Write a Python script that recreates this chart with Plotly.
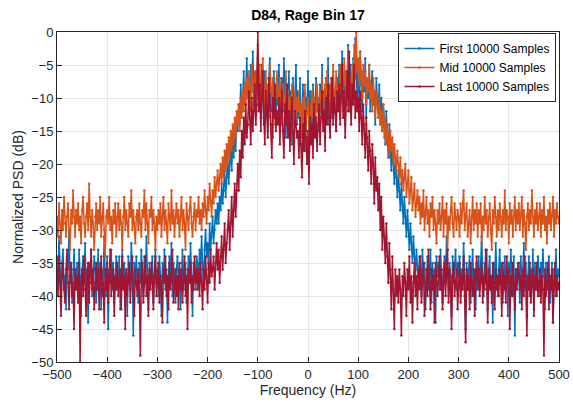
import numpy as np
import plotly.graph_objects as go

freq = list(np.arange(-500, 501, 2))

first_vals = [
    -34,-38,-31,-36,-40,-35,-33,-39,-37,-42,-34,-36,-30,-38,-35,-41,-36,-33,-39,-37,
    -35,-40,-33,-37,-43,-36,-34,-38,-32,-39,-36,-44,-35,-37,-33,-40,-38,-34,-36,-41,
    -37,-33,-39,-35,-42,-36,-38,-31,-37,-40,-34,-45,-36,-38,-33,-39,-35,-41,-37,-34,
    -36,-39,-34,-42,-37,-33,-38,-35,-40,-36,-43,-34,-37,-39,-32,-36,-46,-35,-38,-34,
    -37,-41,-35,-38,-33,-36,-40,-34,-38,-31,-37,-42,-35,-39,-36,-34,-41,-37,-33,-38,
    -36,-40,-34,-37,-43,-35,-38,-33,-39,-36,-44,-37,-34,-38,-32,-40,-35,-37,-41,-36,
    -34,-38,-36,-42,-35,-33,-39,-37,-35,-41,-36,-34,-38,-32,-37,-43,-35,-36,-39,-34,
    -35,-38,-33,-36,-31,-35,-39,-33,-30,-34,-32,-36,-29,-33,-31,-28,-32,-30,-27,-29,
    -26,-29,-25,-27,-23,-26,-24,-21,-25,-22,-19,-23,-20,-17,-21,-16,-19,-14,-18,-13,
    -15,-11,-14,-8,-12,-10,-6,-11,-9,-4,-10,-7,-12,-5,-9,-3,-8,-11,-6,-9,
    -4,-10,-7,-13,-5,-9,-14,-6,-11,-8,-15,-7,-4,-12,-9,-16,-6,-10,-13,-7,
    -11,-5,-9,-14,-7,-12,-4,-10,-16,-8,-11,-6,-13,-9,-17,-7,-12,-10,-5,-14,
    -9,-13,-7,-16,-11,-8,-14,-18,-10,-12,-6,-15,-9,-13,-17,-8,-11,-14,-7,-12,
    -10,-15,-8,-12,-5,-13,-9,-16,-7,-11,-4,-14,-8,-10,-13,-6,-12,-9,-15,-7,
    -10,-5,-13,-8,-3,-11,-7,-14,-6,-9,-2,-12,-5,-8,-11,-4,-9,-1,-7,-10,
    -5,-11,-3,-8,-12,-6,-9,-4,-13,-7,-10,-5,-12,-8,-6,-11,-9,-14,-7,-10,
    -12,-8,-14,-10,-15,-11,-13,-17,-12,-16,-19,-14,-18,-21,-17,-20,-23,-19,-22,-25,
    -21,-24,-27,-23,-26,-29,-25,-28,-31,-27,-30,-33,-29,-32,-35,-31,-34,-37,-33,-36,
    -38,-34,-36,-40,-33,-37,-35,-42,-36,-34,-39,-37,-33,-41,-35,-38,-36,-44,-34,-37,
    -35,-39,-33,-37,-41,-36,-34,-38,-31,-36,-40,-35,-37,-43,-34,-38,-36,-33,-39,-35,
    -37,-34,-40,-36,-38,-32,-37,-45,-35,-39,-36,-34,-41,-37,-33,-38,-36,-42,-35,-37,
    -34,-39,-36,-31,-37,-40,-35,-38,-33,-42,-36,-34,-39,-37,-44,-35,-38,-32,-37,-40,
    -36,-33,-38,-35,-41,-37,-34,-39,-36,-43,-35,-38,-33,-37,-40,-34,-46,-36,-38,-35,
    -37,-41,-34,-38,-36,-32,-39,-35,-43,-37,-34,-40,-36,-38,-33,-42,-35,-37,-39,-34,
    -36,-40,-35,-38,-33,-37,-42,-35,-39,-36,-34,-41,-37,-35,-44,-36,-38,-33,-40,-36,
    -37,
]

mid_vals = [
    -28,-31,-26,-29,-32,-27,-30,-25,-29,-31,-28,-26,-30,-33,-27,-29,-24,-28,-31,-27,
    -29,-26,-30,-28,-32,-27,-25,-29,-31,-28,-26,-30,-23,-28,-31,-27,-29,-33,-28,-26,
    -30,-27,-29,-25,-31,-28,-26,-30,-34,-28,-27,-29,-25,-30,-28,-32,-27,-29,-26,-31,
    -28,-26,-30,-27,-29,-33,-28,-25,-30,-27,-29,-31,-26,-28,-24,-30,-27,-29,-32,-28,
    -27,-30,-26,-29,-31,-27,-28,-24,-30,-26,-29,-32,-27,-28,-25,-30,-27,-29,-33,-28,
    -30,-27,-29,-26,-31,-28,-25,-30,-27,-29,-32,-26,-28,-30,-24,-29,-27,-31,-28,-26,
    -29,-27,-31,-28,-25,-30,-27,-29,-33,-26,-28,-30,-27,-25,-29,-31,-28,-26,-30,-27,
    -28,-25,-29,-27,-30,-26,-28,-24,-27,-29,-25,-27,-23,-26,-28,-24,-26,-22,-25,-23,
    -21,-24,-22,-20,-23,-19,-22,-18,-21,-17,-20,-16,-19,-15,-18,-14,-17,-13,-16,-12,
    -14,-11,-15,-10,-13,-9,-12,-8,-11,-7,-10,-6,-9,-12,-5,-8,-11,-6,-10,-7,
    -2,-8,-5,-11,-7,-4,-9,-12,-6,-10,-8,-13,-5,-9,-11,-7,-14,-8,-10,-6,
    -9,-12,-7,-11,-14,-8,-10,-13,-6,-11,-9,-15,-10,-12,-8,-14,-11,-9,-13,-10,
    -12,-9,-14,-11,-16,-10,-13,-8,-15,-12,-10,-14,-17,-11,-9,-13,-10,-15,-12,-8,
    -11,-14,-9,-12,-7,-13,-10,-8,-12,-6,-11,-9,-13,-7,-10,-5,-9,-12,-6,-10,
    -8,-11,-5,-9,-7,-12,-4,-8,-10,-6,-3,-9,-7,-11,-5,-8,-2,-7,0,-6,
    -4,-8,-3,-7,-10,-5,-8,-6,-11,-7,-9,-5,-10,-8,-12,-7,-10,-13,-9,-11,
    -13,-10,-14,-12,-15,-11,-16,-13,-17,-14,-16,-19,-15,-18,-16,-20,-17,-19,-21,-18,
    -20,-22,-19,-23,-21,-24,-22,-20,-25,-23,-21,-26,-24,-22,-27,-25,-23,-28,-26,-24,
    -27,-25,-29,-26,-28,-24,-30,-27,-25,-29,-27,-31,-26,-28,-25,-30,-27,-29,-32,-27,
    -29,-26,-30,-28,-25,-31,-27,-29,-26,-33,-28,-30,-27,-25,-29,-31,-26,-28,-30,-27,
    -28,-31,-26,-29,-27,-24,-30,-28,-26,-31,-29,-27,-32,-28,-25,-30,-27,-29,-26,-31,
    -27,-29,-26,-32,-28,-30,-25,-29,-27,-31,-28,-26,-30,-33,-27,-29,-25,-28,-31,-27,
    -30,-26,-28,-31,-27,-29,-24,-30,-27,-28,-32,-26,-29,-27,-31,-28,-25,-30,-27,-29,
    -26,-30,-28,-25,-31,-27,-29,-33,-28,-26,-30,-27,-29,-24,-28,-31,-27,-29,-26,-30,
    -28,-26,-31,-27,-29,-25,-30,-28,-32,-27,-29,-26,-30,-28,-25,-31,-27,-29,-26,-28,
    -29,
]

last_vals = [
    -36,-40,-34,-38,-43,-37,-35,-39,-41,-36,-33,-38,-42,-37,-35,-40,-38,-45,-36,-39,
    -37,-41,-35,-50,-38,-36,-40,-34,-39,-43,-37,-35,-41,-38,-33,-39,-36,-42,-38,-35,
    -39,-36,-42,-37,-34,-40,-38,-44,-36,-39,-35,-41,-37,-33,-40,-38,-36,-43,-37,-39,
    -35,-40,-38,-36,-42,-34,-39,-37,-45,-36,-40,-38,-35,-41,-37,-34,-39,-43,-36,-38,
    -40,-36,-39,-49,-37,-35,-41,-38,-34,-40,-37,-43,-36,-39,-35,-38,-42,-37,-34,-40,
    -38,-35,-41,-37,-39,-44,-36,-38,-34,-40,-37,-42,-35,-39,-37,-33,-41,-38,-36,-40,
    -37,-42,-35,-39,-36,-41,-38,-34,-40,-37,-45,-36,-38,-35,-41,-37,-39,-34,-38,-36,
    -39,-36,-40,-35,-38,-42,-36,-39,-34,-37,-41,-35,-38,-33,-37,-36,-34,-39,-35,-32,
    -36,-33,-38,-34,-31,-36,-33,-29,-35,-32,-30,-27,-33,-29,-25,-31,-27,-23,-28,-24,
    -20,-24,-18,-22,-15,-19,-13,-17,-11,-16,-14,-9,-13,-17,-10,-15,-12,-8,-14,-11,
    0,-12,-8,-15,-10,-6,-13,-17,-9,-12,-16,-7,-11,-14,-19,-10,-13,-8,-15,-12,
    -14,-10,-17,-12,-9,-15,-19,-11,-14,-8,-16,-12,-18,-13,-10,-15,-20,-12,-14,-16,
    -15,-19,-13,-17,-22,-14,-18,-12,-16,-20,-15,-23,-13,-17,-14,-19,-11,-16,-13,-18,
    -14,-11,-17,-13,-9,-15,-12,-18,-10,-14,-8,-13,-16,-11,-7,-14,-10,-12,-15,-9,
    -12,-8,-14,-10,-5,-13,-9,-16,-11,-6,-12,-3,-10,-14,-8,-11,-5,-13,-9,-12,
    -10,-15,-9,-13,-17,-11,-14,-19,-13,-16,-21,-15,-18,-23,-17,-20,-26,-19,-24,-22,
    -27,-23,-30,-25,-33,-28,-31,-35,-29,-34,-38,-32,-36,-42,-34,-39,-45,-36,-40,-37,
    -41,-36,-39,-46,-37,-40,-35,-38,-43,-36,-39,-34,-41,-37,-44,-38,-35,-40,-37,-42,
    -36,-39,-34,-41,-37,-35,-43,-38,-36,-40,-33,-38,-42,-36,-39,-37,-44,-35,-38,-40,
    -37,-34,-39,-36,-42,-38,-35,-40,-37,-33,-41,-36,-39,-45,-37,-35,-40,-38,-36,-42,
    -38,-35,-41,-37,-39,-34,-40,-47,-36,-39,-37,-42,-35,-38,-40,-36,-43,-37,-34,-39,
    -36,-40,-38,-35,-41,-37,-39,-33,-38,-44,-36,-39,-37,-41,-35,-38,-42,-36,-39,-37,
    -40,-36,-38,-43,-35,-39,-37,-41,-34,-38,-36,-45,-37,-40,-35,-38,-42,-36,-39,-37,
    -35,-39,-37,-42,-36,-40,-34,-38,-46,-37,-39,-35,-41,-38,-36,-43,-37,-39,-35,-40,
    -38,-36,-41,-37,-39,-49,-36,-40,-38,-35,-42,-37,-39,-36,-44,-38,-35,-40,-37,-39,
    -38,
]

series = [
    ("First 10000 Samples", first_vals, "#0072BD"),
    ("Mid 10000 Samples", mid_vals, "#D95319"),
    ("Last 10000 Samples", last_vals, "#A2142F"),
]

fig = go.Figure()
for name, vals, col in series:
    fig.add_trace(go.Scatter(
        x=freq, y=vals, name=name, mode="lines+markers",
        line=dict(color=col, width=1.5),
        marker=dict(color=col, size=2.5),
    ))

axis_common = dict(
    showgrid=True, gridcolor="#E6E6E6", gridwidth=1,
    showline=True, linecolor="#262626", linewidth=1, mirror=True,
    ticks="inside", ticklen=5, tickcolor="#262626",
    zeroline=False, automargin=False,
    tickfont=dict(size=13, color="#262626"),
)

fig.update_layout(
    width=573, height=403,
    margin=dict(l=57, r=14, t=32, b=41),
    paper_bgcolor="white", plot_bgcolor="white",
    font=dict(family="Liberation Sans, Arial, sans-serif", color="#262626"),
    title=dict(text="<b>D84, Rage Bin 17</b>", x=0.5, xref="paper", xanchor="center",
               y=0.962, yanchor="middle", font=dict(size=14, color="black")),
    xaxis=dict(range=[-500, 500], tickvals=list(range(-500, 501, 100)),
               title=dict(text="Frequency (Hz)", font=dict(size=14), standoff=2),
               **axis_common),
    yaxis=dict(range=[-50, 0], tickvals=list(range(-50, 1, 5)),
               title=dict(text="Normalized PSD (dB)", font=dict(size=14), standoff=4),
               **axis_common),
    legend=dict(x=0.995, y=0.997, xanchor="right", yanchor="top",
                bgcolor="white", bordercolor="#262626", borderwidth=1,
                font=dict(size=12, color="black"), tracegroupgap=0,
                itemwidth=30),
    showlegend=True,
)

fig.write_html("out.html")
